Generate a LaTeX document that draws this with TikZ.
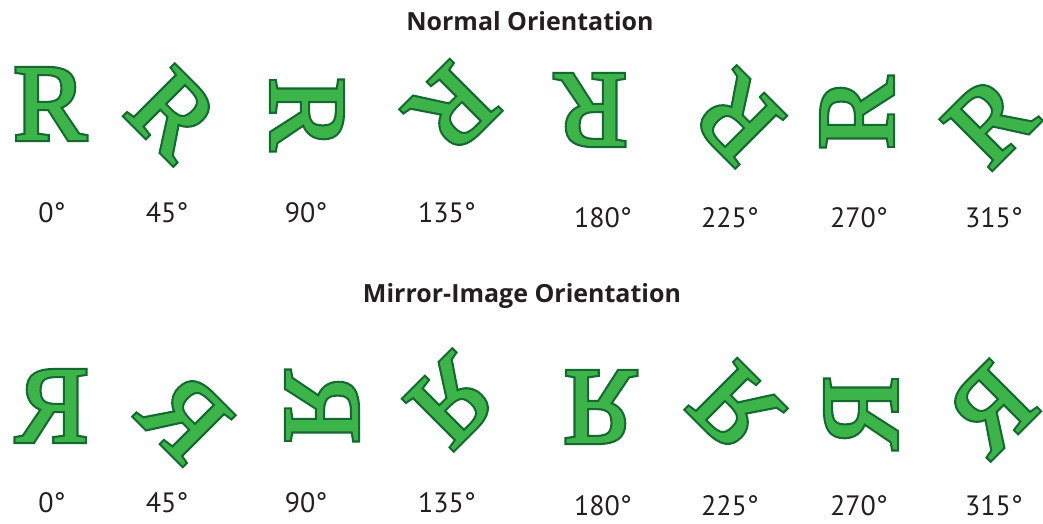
\documentclass[tikz,border=0pt]{standalone}
\usepackage{fontspec}
\setsansfont{PT Sans}
\newfontfamily\titlefont{Open Sans}
\newfontfamily\rfont[FakeBold=1]{Liberation Serif}
\newfontfamily\rfontbold[FakeBold=5]{Liberation Serif}
\definecolor{lg}{RGB}{60,180,74}
\definecolor{dg}{RGB}{20,105,48}
\definecolor{txt}{RGB}{35,31,32}
\newcommand\outlR{\fontsize{108}{108}\selectfont\makebox[0pt][l]{\color{dg}\rfontbold R}{\color{lg}\rfont R}}
\tikzset{
  letter/.style={inner sep=0pt, outer sep=0pt, transform shape},
  deg/.style={anchor=base, inner sep=0pt, text depth=0pt, text=txt, font=\sffamily\fontsize{28}{28}\selectfont},
  title/.style={anchor=base, inner sep=0pt, text depth=0pt, text=txt, font=\titlefont\bfseries\fontsize{25}{25}\selectfont}
}
\begin{document}
\begin{tikzpicture}[x=1pt,y=-1pt]
\useasboundingbox (0,0) rectangle (1043,523);
\node[title] (t1) at (530,30) {Normal Orientation};
\node[title] (t2) at (522,302) {Mirror-Image Orientation};
\foreach \a/\x/\y/\lx/\ly [count=\i] in {0/50/104/52/222,45/173/114/167/222,90/307/114/306/222,135/452/109/447/222,180/591/110/603/227,225/737/118/730/227,270/857/113/859/227,315/990/121/994/227}{
  \begin{scope}[shift={(\x,\y)}, rotate=-\a]
    \node[letter] (r\i) at (0,0) {\outlR};
  \end{scope}
  \node[deg] (l\i) at (\lx,\ly) {\a°};
}
\foreach \a/\x/\y/\lx/\ly [count=\i] in {0/52/406/52/512,45/185/417/167/512,90/322/407/306/512,135/452/401/447/512,180/600/407/603/515,225/735/408/730/515,270/861/413/859/515,315/991/409/994/515}{
  \begin{scope}[shift={(\x,\y)}, rotate=-\a, xscale=-1]
    \node[letter] (m\i) at (0,0) {\outlR};
  \end{scope}
  \node[deg] (k\i) at (\lx,\ly) {\a°};
}
\end{tikzpicture}
\end{document}
